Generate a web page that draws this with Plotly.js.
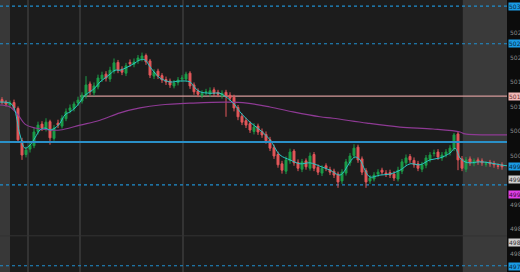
<!DOCTYPE html>
<html><head><meta charset="utf-8">
<script src="https://cdn.plot.ly/plotly-3.0.1.min.js"></script>
<style>html,body{margin:0;padding:0;background:#0c0c0c;}#c{width:520px;height:272px;}</style>
</head><body><div id="c"></div>
<script>
// candle index
const idx = Array.from({length:126},(_,i)=>i);
const openP = [5011.4,5010.9,5010.3,5010.8,5009.6,5003.0,5000.2,5001.3,5002.0,5004.9,
5006.4,5005.4,5006.9,5003.5,5006.6,5006.0,5007.5,5009.2,5009.6,5010.7,
5011.1,5012.2,5014.6,5012.8,5014.0,5015.6,5016.6,5015.6,5017.2,5019.0,
5017.6,5016.8,5019.0,5018.6,5019.3,5019.7,5020.4,5019.3,5016.2,5017.2,
5016.3,5015.5,5015.2,5014.2,5014.9,5015.6,5015.6,5016.8,5014.4,5013.2,
5012.2,5012.8,5012.6,5013.4,5012.9,5012.2,5012.9,5012.3,5011.9,5009.8,
5008.0,5007.1,5006.5,5004.9,5006.0,5004.9,5004.3,5003.2,5001.6,5000.2,
4998.3,4996.8,4998.9,5000.9,4998.6,4997.2,4998.9,4997.4,5000.2,4997.6,
4996.4,4997.9,4997.1,4996.8,4996.2,4994.8,4996.4,4998.5,5000.0,5001.7,
4999.3,4996.9,4994.8,4995.2,4996.2,4997.0,4996.4,4996.5,4996.2,4995.2,
4996.8,4998.5,4999.8,4999.0,4998.3,4997.2,4998.0,4999.2,5000.4,5000.7,
4999.5,5000.2,5000.6,5001.4,5004.4,4999.3,4997.2,4999.3,4998.4,4999.1,
4998.9,4998.2,4998.6,4998.4,4997.9,4998.1];
const highP = [5011.9,5011.3,5011.2,5011.4,5010.0,5003.6,5001.8,5002.9,5005.6,5006.9,
5007.0,5007.6,5007.3,5006.2,5007.3,5008.2,5009.6,5010.4,5011.0,5012.0,
5012.9,5016.2,5015.1,5014.9,5016.5,5017.1,5017.2,5018.1,5019.8,5019.5,
5018.2,5018.9,5019.6,5019.8,5020.5,5021.0,5020.8,5019.7,5017.6,5017.7,
5016.8,5016.1,5015.7,5015.4,5016.0,5016.4,5017.1,5017.2,5014.9,5013.7,
5013.3,5013.6,5013.9,5013.9,5013.4,5013.3,5013.4,5012.9,5012.4,5010.3,
5008.6,5007.7,5007.0,5006.6,5006.5,5005.5,5004.9,5003.8,5002.2,5000.8,
4998.9,4999.8,5001.4,5001.3,4999.2,4999.3,4999.4,5000.6,5000.7,4998.2,
4998.0,4998.4,4997.7,4997.3,4996.7,4997.2,4999.3,5000.5,5002.3,5002.2,
4999.8,4997.4,4996.0,4996.6,4997.2,4997.5,4997.0,4997.1,4996.8,4997.7,
4999.3,5000.2,5000.3,4999.6,4998.9,4998.7,5000.1,5000.7,5001.2,5001.3,
5000.7,5001.3,5002.1,5004.6,5004.8,4999.9,4999.7,4999.8,4999.4,4999.6,
4999.4,4998.8,4999.1,4998.9,4998.4,4998.6];
const lowP = [5010.4,5010.0,5009.8,5009.2,5002.6,4999.1,4999.6,5000.6,5001.5,5004.3,
5005.0,5004.9,5002.2,5003.0,5005.6,5005.5,5007.0,5008.6,5009.0,5010.1,
5010.6,5011.6,5012.3,5012.2,5013.5,5015.0,5015.1,5015.0,5016.7,5016.8,
5016.4,5016.2,5018.1,5018.0,5018.7,5019.2,5018.5,5015.8,5015.6,5015.6,
5014.8,5014.4,5013.8,5013.7,5014.3,5015.0,5015.1,5013.6,5012.4,5011.9,
5011.7,5012.2,5012.0,5012.1,5011.9,5011.6,5007.9,5011.1,5009.0,5007.2,
5006.2,5005.6,5004.6,5004.3,5004.2,5003.6,5002.4,5000.9,4999.3,4997.5,
4996.3,4996.2,4998.3,4997.9,4996.8,4996.6,4997.1,4996.9,4996.8,4996.0,
4995.8,4996.8,4996.0,4995.4,4993.4,4994.2,4995.9,4997.9,4999.4,4998.5,
4996.0,4993.4,4994.2,4994.7,4995.6,4996.0,4995.6,4995.4,4994.8,4994.7,
4996.2,4997.9,4998.5,4997.5,4996.8,4996.6,4997.4,4998.6,4999.8,4999.1,
4998.9,4999.6,5000.0,5000.9,4997.0,4996.8,4996.6,4997.9,4997.8,4998.1,
4997.9,4997.7,4997.7,4997.5,4997.2,4997.1];
const closeP = [5010.9,5010.5,5010.7,5009.7,5003.2,5000.1,5001.1,5002.1,5004.8,5006.2,
5005.6,5006.8,5003.6,5005.6,5006.2,5007.6,5008.9,5009.7,5010.5,5011.3,
5012.3,5014.4,5013.0,5014.2,5015.8,5016.4,5015.8,5017.4,5018.9,5017.4,
5017.0,5018.3,5018.7,5019.1,5019.9,5020.3,5019.1,5016.4,5017.0,5016.2,
5015.4,5015.0,5014.4,5014.8,5015.4,5015.8,5016.6,5014.2,5013.0,5012.5,
5012.7,5013.0,5013.2,5012.7,5012.5,5012.7,5012.1,5011.7,5009.7,5007.9,
5006.8,5006.2,5005.2,5005.8,5004.8,5004.2,5003.0,5001.5,4999.9,4998.1,
4997.0,4999.1,5000.7,4998.5,4997.4,4998.7,4997.7,4999.9,4997.4,4996.6,
4997.4,4997.4,4996.6,4996.0,4994.6,4996.6,4998.7,4999.9,5001.5,4999.1,
4996.6,4994.6,4995.4,4996.0,4996.6,4996.6,4996.2,4996.0,4995.4,4997.0,
4998.7,4999.5,4999.1,4998.1,4997.4,4998.1,4999.5,5000.1,5000.5,4999.7,
5000.1,5000.7,5001.5,5004.2,4999.1,4997.4,4999.1,4998.5,4998.9,4998.7,
4998.5,4998.3,4998.3,4998.1,4997.8,4997.7];
// short moving average (cyan)
const fastX = [-0.5,2,3,4.5,5.75,7,8.25,9.5,10.75,12,13.25,14.5,15.75,17,18.25,19.5,20.75,22,23.25,24.5,25.75,27,28.25,29.5,30.75,32,33.25,34.5,35.75,37,38.25,39.5,42,44.5,47,48.25,49.5,52,54.5,55.75,57,58.25,59.5,62,64.5,67,69.5,72,74.5,77,79.5,82,84.5,85.75,87,88.25,89.5,90.75,92,94.5,97,99.5,102,104.5,107,109.5,112,113.25,114.5,115.75,117,119.5,122,124.5,126.25];
const fastY = [5010.9,5010.7,5009.7,5004.2,5001.5,5002.1,5003.6,5005.2,5005.6,5005.2,5005.6,5006.6,5008.3,5008.9,5009.7,5010.9,5012.3,5013.0,5013.8,5015.0,5015.8,5016.6,5017.4,5017.4,5017.8,5018.3,5018.9,5019.5,5019.5,5018.1,5016.8,5015.8,5015.0,5015.2,5015.0,5013.8,5013.0,5012.7,5012.7,5012.1,5011.3,5010.3,5008.9,5006.8,5005.2,5003.2,5000.1,4999.1,4998.3,4998.5,4997.8,4997.0,4996.0,4997.0,4998.7,4999.7,4999.1,4997.0,4995.6,4996.0,4996.2,4997.0,4998.3,4998.1,4999.1,4999.5,5000.5,5001.5,4999.5,4998.7,4998.5,4998.7,4998.5,4998.1,4997.9];
// long moving average (purple)
const slowX = [-0.5,2,4,5.75,8.25,12,14.5,19.5,24.5,29.5,34.5,39.5,47.75,56.25,61.25,67,72.75,79.5,82.75,91.25,99.5,107.75,114.5,115.75,124.5,126.25];
const slowY = [5010.3,5009.9,5008.3,5006.4,5005.6,5005.2,5005.2,5006.2,5007.2,5008.7,5009.7,5010.3,5010.7,5010.9,5010.7,5009.9,5008.9,5007.9,5007.6,5006.6,5005.8,5005.4,5004.8,5004.4,5004.2,5004.2];
// price levels
const dashLevels = [5030.5, 5022.8, 4994.0, 4977.5];
const pinkLevel = 5012.1;
const blueLevel = 5002.75;
const grayLevel = 4983.6;
const vLines = [6.5, 19.5, 45.25];
const yTicks = [5025,5020,5015,5010,5005,5000,4990,4985,4980];
const tags = [
 {p:5030.5, t:'5030.50', bg:'#1a9be6', fc:'#0a2a40'},
 {p:5022.8, t:'5022.75', bg:'#1a9be6', fc:'#0a2a40'},
 {p:5012.1, t:'5012.12', bg:'#f2b8b8', fc:'#6a3030'},
 {p:4997.7, t:'4997.75', bg:'#1a9be6', fc:'#0a2a40'},
 {p:4995.2, t:'4995.25', bg:'#cfcfcf', fc:'#333'},
 {p:4992.1, t:'4992.12', bg:'#e040e8', fc:'#3a0a40'},
 {p:4982.2, t:'4982.25', bg:'#cfcfcf', fc:'#333'},
 {p:4977.3, t:'4977.25', bg:'#1a9be6', fc:'#0a2a40'}
];

const XR = [-0.5, 126.25];
const shapes = [];
shapes.push({type:'rect',xref:'x',yref:'paper',x0:-0.5,x1:2,y0:0,y1:1,fillcolor:'#383838',line:{width:0},layer:'below'});
shapes.push({type:'rect',xref:'x',yref:'paper',x0:115.2,x1:126.25,y0:0,y1:1,fillcolor:'#3a3a3a',line:{width:0},layer:'below'});
vLines.forEach(v=>shapes.push({type:'line',xref:'x',yref:'paper',x0:v,x1:v,y0:0,y1:1,line:{color:'#4a4a4a',width:1},layer:'below'}));
shapes.push({type:'line',xref:'paper',yref:'y',x0:0,x1:1,y0:grayLevel,y1:grayLevel,line:{color:'#333',width:1},layer:'below'});
dashLevels.forEach(l=>shapes.push({type:'line',xref:'paper',yref:'y',x0:0,x1:1,y0:l,y1:l,line:{color:'#1f8fd0',width:1.2,dash:'dot'},layer:'below'}));
shapes.push({type:'line',xref:'x',yref:'y',x0:19.5,x1:126.25,y0:pinkLevel,y1:pinkLevel,line:{color:'#d49a9a',width:1.2},layer:'below'});
shapes.push({type:'line',xref:'paper',yref:'y',x0:0,x1:1,y0:blueLevel,y1:blueLevel,line:{color:'#2a90c8',width:2},layer:'above'});

const annotations = tags.map(g=>({xref:'paper',yref:'y',x:1,y:g.p,xanchor:'left',yanchor:'middle',xshift:1,
  text:g.t,showarrow:false,bgcolor:g.bg,font:{size:6,color:g.fc,family:'DejaVu Sans'},borderpad:0}));

const data = [
 {type:'candlestick',x:idx,open:openP,high:highP,low:lowP,close:closeP,
  increasing:{line:{color:'#1c9c48',width:1},fillcolor:'#1c9c48'},
  decreasing:{line:{color:'#e2575a',width:1},fillcolor:'#e2575a'},
  whiskerwidth:0,hoverinfo:'skip',showlegend:false},
 {type:'scatter',mode:'lines',x:slowX,y:slowY,line:{color:'#8e3a94',width:1.2,shape:'spline'},hoverinfo:'skip',showlegend:false},
 {type:'scatter',mode:'lines',x:fastX,y:fastY,line:{color:'#29c6c6',width:1,shape:'spline'},hoverinfo:'skip',showlegend:false}
];

const layout = {
 width:520,height:272,margin:{l:0,r:13,t:0,b:0},
 paper_bgcolor:'#0c0c0c',plot_bgcolor:'#1c1c1c',
 showlegend:false,
 xaxis:{range:XR,showgrid:false,zeroline:false,showticklabels:false,rangeslider:{visible:false},fixedrange:true},
 yaxis:{range:[4976.22,5031.73],side:'right',tickvals:yTicks,ticktext:yTicks.map(String),showgrid:false,zeroline:false,
   tickfont:{size:6,color:'#8a8a8a',family:'DejaVu Sans'},ticks:'',ticklabelstandoff:2},
 shapes:shapes,annotations:annotations
};
Plotly.newPlot('c',data,layout,{staticPlot:true,displayModeBar:false});
</script>
</body></html>
